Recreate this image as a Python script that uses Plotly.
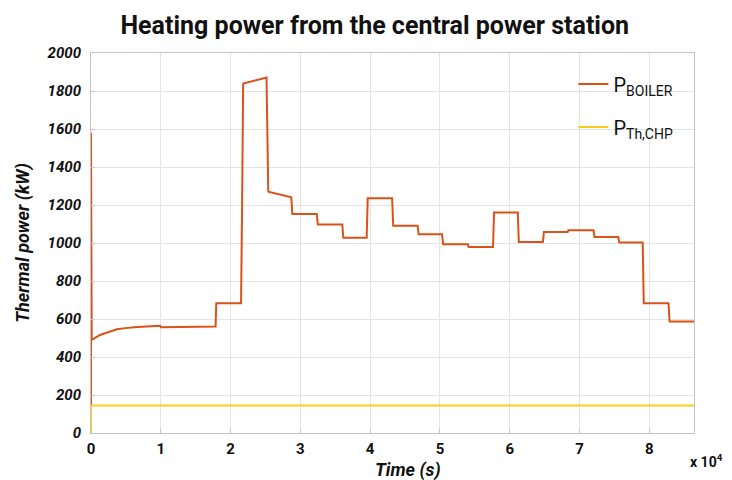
import plotly.graph_objects as go

# ---- data ----
time_boiler = [0, 0, 100, 1300, 2500, 3700, 5000, 6100, 8000, 9900,
               10050, 14400, 14500, 17850, 17950, 21500, 21650, 21800,
               25150, 25250, 25400, 28700, 28850, 32350, 32500, 36000, 36150,
               39500, 39650, 43150, 43300, 46800, 46950, 50300, 50450,
               54000, 54100, 57600, 57750, 61150, 61300, 64750, 64900,
               68300, 68400, 72000, 72150, 75550, 75700, 79050, 79200,
               82750, 82900, 86400]
power_boiler = [0, 1580, 490, 516, 532, 546, 552, 557, 561, 564,
                557, 557, 560, 560, 683, 683, 1200, 1839,
                1871, 1550, 1270, 1240, 1152, 1152, 1098, 1098, 1028,
                1028, 1235, 1235, 1091, 1091, 1046, 1046, 993,
                993, 979, 979, 1161, 1161, 1005, 1005, 1058,
                1058, 1067, 1067, 1032, 1032, 1002, 1002, 683,
                683, 587, 587]

time_chp = [0, 0, 86400]
power_chp = [0, 145, 145]

x_tick_vals = [0, 10000, 20000, 30000, 40000, 50000, 60000, 70000, 80000]
x_tick_text = ["0", "1", "2", "3", "4", "5", "6", "7", "8"]
y_tick_vals = [0, 200, 400, 600, 800, 1000, 1200, 1400, 1600, 1800, 2000]

series_names = ["P<sub>BOILER</sub>", "P<sub>Th,CHP</sub>"]
series_colors = ["#D95319", "#F7CF1A"]

FONT = "Roboto, Liberation Sans, sans-serif"

fig = go.Figure()
fig.add_trace(go.Scatter(x=time_boiler, y=power_boiler, mode="lines",
                         name=series_names[0], legendgroup="a",
                         line=dict(color=series_colors[0], width=2)))
fig.add_trace(go.Scatter(x=time_chp, y=power_chp, mode="lines",
                         name=series_names[1], legendgroup="b",
                         line=dict(color=series_colors[1], width=2)))

axis_common = dict(showline=True, linecolor="#c4c4c4", linewidth=1, mirror=True,
                   showgrid=True, gridcolor="#e4e4e4", gridwidth=1,
                   ticks="inside", ticklen=4, tickcolor="#c4c4c4", zeroline=False,
                   automargin=False)

fig.update_layout(
    width=732, height=480,
    paper_bgcolor="white", plot_bgcolor="white",
    margin=dict(l=91, r=38, t=53, b=47, autoexpand=False),
    font=dict(family=FONT, color="#111111"),
    title=dict(text="Heating power from the central power station",
               x=0.512, xanchor="center", y=0.948, yanchor="middle",
               font=dict(family=FONT, size=25, weight="bold", color="#111111")),
    xaxis=dict(range=[0, 86400], tickvals=x_tick_vals, ticktext=x_tick_text,
               tickfont=dict(family=FONT, size=15, weight="bold", color="#111111"),
               ticklabelstandoff=2,
               **axis_common),
    yaxis=dict(range=[0, 2000], tickvals=y_tick_vals,
               tickfont=dict(family=FONT, size=15, weight="bold", style="italic", color="#111111"),
               ticklabelstandoff=6,
               title=dict(text="Thermal power (kW)", standoff=13,
                          font=dict(family=FONT, size=18, weight="bold", style="italic", color="#111111")),
               **axis_common),
    legend=dict(x=0.80, y=0.97, xanchor="left", yanchor="top",
                bgcolor="rgba(255,255,255,0)", borderwidth=0,
                font=dict(family=FONT, size=20, color="#111111"),
                tracegroupgap=14, traceorder="grouped"),
    showlegend=True,
)

# x-axis title (slightly right of centre, as in the reference)
fig.add_annotation(text="Time (s)", xref="paper", yref="paper",
                   x=0.525, y=-0.097, xanchor="center", yanchor="middle", showarrow=False,
                   font=dict(family=FONT, size=18, weight="bold", style="italic", color="#111111"))
fig.add_annotation(text="x 10<sup>4</sup>", xref="paper", yref="paper",
                   x=0.99, y=-0.045, xanchor="left", yanchor="top", showarrow=False,
                   font=dict(family=FONT, size=14, weight="bold", color="#111111"))

fig.write_html("out.html", config={"displayModeBar": False},
               post_script="document.body.style.margin='0';")
